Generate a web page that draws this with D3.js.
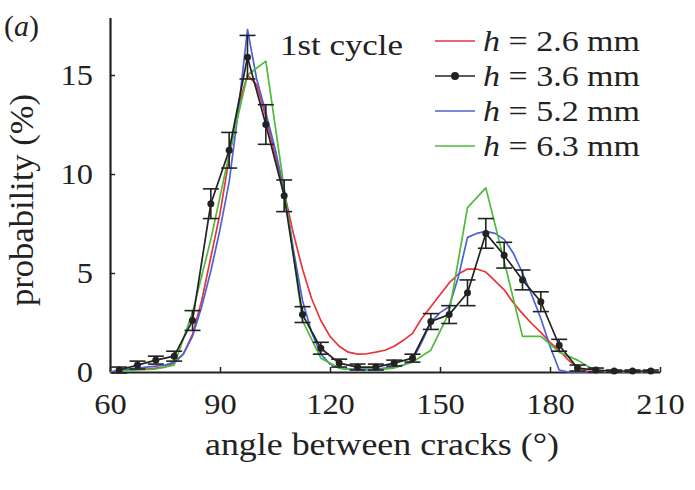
<!DOCTYPE html>
<html>
<head>
<meta charset="utf-8">
<script src="https://cdn.jsdelivr.net/npm/d3@7"></script>
<style>
  body { margin: 0; background: #fff; }
  text { font-family: "Liberation Serif", "Times New Roman", serif; fill: #222; }
</style>
</head>
<body>
<div id="chart"></div>
<script>
// fine grid (2.5 deg) for the smooth curves
var fineAngles = [60, 62.5, 65, 67.5, 70, 72.5, 75, 77.5, 80, 82.5, 85, 87.5, 90, 92.5, 95, 97.5,
  100, 102.5, 105, 107.5, 110, 112.5, 115, 117.5, 120, 122.5, 125, 127.5, 130, 132.5, 135, 137.5,
  140, 142.5, 145, 147.5, 150, 152.5, 155, 157.5, 160, 162.5, 165, 167.5, 170, 172.5, 175, 177.5,
  180, 182.5, 185, 187.5, 190, 192.5, 195];
var red26 = [0, 0.05, 0.1, 0.15, 0.15, 0.2, 0.25, 0.45, 0.9, 1.9, 3.6, 5.8, 8.0, 10.8, 13.4, 15.0,
  14.5, 12.9, 11.0, 9.1, 7.0, 5.2, 3.7, 2.6, 1.8, 1.3, 1.0, 0.9, 0.92, 1.0, 1.1, 1.3,
  1.6, 1.95, 2.7, 3.3, 3.9, 4.5, 4.95, 5.2, 5.2, 5.05, 4.6, 4.15, 3.5, 2.95, 2.45, 2.0,
  1.5, 1.1, 0.6, 0.25, 0.05, 0, 0];
var blue52 = [0, 0.1, 0.15, 0.2, 0.25, 0.3, 0.35, 0.5, 0.9, 1.8, 3.3, 5.1, 7.2, 9.6, 13.2, 17.3,
  14.8, 13.1, 11.3, 9.2, 6.2, 3.6, 2.0, 0.9, 0.4, 0.2, 0.15, 0.15, 0.15, 0.15, 0.2, 0.25,
  0.35, 0.6, 1.5, 2.5, 3.0, 3.3, 4.8, 6.8, 7.0, 7.1, 7.0, 6.7, 6.0, 5.0, 3.9, 2.7,
  1.3, 0.1, 0, 0, 0, 0, 0];

// bin centres (5 deg) for the measured series
var binAngles = [62.5, 67.5, 72.5, 77.5, 82.5, 87.5, 92.5, 97.5, 102.5, 107.5, 112.5, 117.5,
  122.5, 127.5, 132.5, 137.5, 142.5, 147.5, 152.5, 157.5, 162.5, 167.5, 172.5, 177.5,
  182.5, 187.5, 192.5, 197.5, 202.5, 207.5];
var black36 = [0.1, 0.35, 0.6, 0.8, 2.6, 8.5, 11.2, 15.9, 12.5, 8.9, 2.9, 1.2,
  0.45, 0.25, 0.25, 0.45, 0.7, 2.55, 2.9, 4.0, 7.0, 5.9, 4.65, 3.55,
  1.35, 0.2, 0.1, 0.05, 0.05, 0.05];
var black36err = [0.15, 0.2, 0.2, 0.25, 0.5, 0.75, 0.9, 1.1, 1.0, 0.8, 0.4, 0.3,
  0.2, 0.15, 0.15, 0.15, 0.2, 0.4, 0.45, 0.65, 0.75, 0.65, 0.5, 0.5,
  0.3, 0.15, 0.1, 0.05, 0.05, 0.05];
var green63 = [0.05, 0.1, 0.15, 0.35, 3.0, 6.7, 11.0, 15.0, 15.7, 9.3, 2.6, 0.7,
  0.2, 0.1, 0.1, 0.2, 0.5, 1.1, 3.0, 8.3, 9.3, 5.6, 1.8, 1.8,
  1.0, 0.6, 0.05, 0, 0, 0];

var xTicks = [60, 90, 120, 150, 180, 210];
var yTicks = [0, 5, 10, 15];
var legendLabels = ["2.6", "3.6", "5.2", "6.3"];
var legendColors = ["#e8343c", "#222", "#4b63d6", "#4dbb3c"];

var width = 695, height = 490;
var svg = d3.select("#chart").append("svg")
    .attr("width", width)
    .attr("height", height);

var x = d3.scaleLinear().domain([60, 210]).range([110, 660]);
var y = d3.scaleLinear().domain([0, 17.9]).range([372, 17.6]);

// axes (MATLAB style: ticks inside, no box)
var xAxis = svg.append("g")
    .attr("transform", "translate(0," + y(0) + ")")
    .call(d3.axisBottom(x).tickValues(xTicks).tickSizeInner(-5).tickSizeOuter(0).tickPadding(14));
var yAxis = svg.append("g")
    .attr("transform", "translate(" + x(60) + ",0)")
    .call(d3.axisLeft(y).tickValues(yTicks).tickSizeInner(-5).tickSizeOuter(0).tickPadding(17));

[xAxis, yAxis].forEach(function(g) {
  g.select(".domain").attr("stroke", "#222").attr("stroke-width", 2.2);
  g.selectAll(".tick line").attr("stroke", "#222").attr("stroke-width", 1.5);
  g.selectAll(".tick text")
    .style("font-family", "'Liberation Serif', serif")
    .style("font-size", "29px")
    .attr("fill", "#222");
});
xAxis.selectAll(".tick text").attr("transform", "scale(1.12,1)").attr("dy", "0.95em");
yAxis.selectAll(".tick text").attr("transform", "scale(1.12,1)").attr("x", -17 / 1.12);

// axis titles
svg.append("text")
    .attr("x", 382).attr("y", 455)
    .attr("text-anchor", "middle")
    .attr("textLength", 354).attr("lengthAdjust", "spacingAndGlyphs")
    .style("font-size", "32px")
    .text("angle between cracks (\u00b0)");

svg.append("text")
    .attr("transform", "translate(33,200) rotate(-90)")
    .attr("text-anchor", "middle")
    .attr("textLength", 212).attr("lengthAdjust", "spacingAndGlyphs")
    .style("font-size", "33px")
    .text("probability (%)");

svg.append("text")
    .attr("x", 4).attr("y", 36)
    .style("font-size", "30px")
    .html("(<tspan font-style='italic'>a</tspan>)");

svg.append("text")
    .attr("x", 280).attr("y", 55)
    .attr("textLength", 123).attr("lengthAdjust", "spacingAndGlyphs")
    .style("font-size", "30px")
    .text("1st cycle");

// curves
var line = d3.line()
    .x(function(d) { return x(d[0]); })
    .y(function(d) { return y(d[1]); });

function drawSeries(angles, values, color) {
  svg.append("path")
      .datum(d3.zip(angles, values))
      .attr("fill", "none")
      .attr("stroke", color)
      .attr("stroke-width", 1.7)
      .attr("stroke-linejoin", "round")
      .attr("d", line);
}

drawSeries(fineAngles, red26, legendColors[0]);
drawSeries(fineAngles, blue52, legendColors[2]);
drawSeries(binAngles, green63, legendColors[3]);
drawSeries(binAngles, black36, legendColors[1]);

// error bars + markers for h=3.6 mm
var pts = d3.zip(binAngles, black36, black36err);
var eb = svg.append("g").attr("stroke", "#222").attr("stroke-width", 1.6);
eb.selectAll("line.v").data(pts).enter().append("line")
    .attr("x1", function(d) { return x(d[0]); })
    .attr("x2", function(d) { return x(d[0]); })
    .attr("y1", function(d) { return y(d[1] - d[2]); })
    .attr("y2", function(d) { return y(d[1] + d[2]); });
[-1, 1].forEach(function(s) {
  eb.selectAll("line.cap" + (s + 1)).data(pts).enter().append("line")
      .attr("x1", function(d) { return x(d[0]) - 8; })
      .attr("x2", function(d) { return x(d[0]) + 8; })
      .attr("y1", function(d) { return y(d[1] + s * d[2]); })
      .attr("y2", function(d) { return y(d[1] + s * d[2]); });
});
svg.selectAll("circle.pt").data(pts).enter().append("circle")
    .attr("cx", function(d) { return x(d[0]); })
    .attr("cy", function(d) { return y(d[1]); })
    .attr("r", 3.5)
    .attr("fill", "#222");

// legend
var legend = svg.append("g");
legendLabels.forEach(function(lab, i) {
  var ly = 41 + i * 35;
  legend.append("line")
      .attr("x1", 435).attr("x2", 475)
      .attr("y1", ly).attr("y2", ly)
      .attr("stroke", legendColors[i])
      .attr("stroke-width", 1.7);
  if (i === 1) {
    legend.append("circle").attr("cx", 455).attr("cy", ly).attr("r", 4).attr("fill", "#222");
  }
  legend.append("text")
      .attr("x", 483).attr("y", ly + 10)
      .attr("textLength", 157).attr("lengthAdjust", "spacingAndGlyphs")
      .style("font-size", "30px")
      .html("<tspan font-style='italic'>h</tspan> = " + lab + " mm");
});
</script>
</body>
</html>
